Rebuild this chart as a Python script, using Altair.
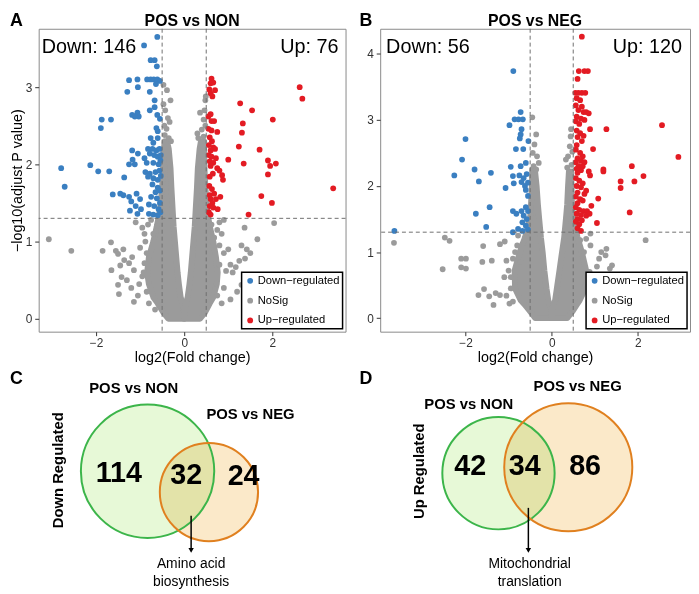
import altair as alt
import pandas as pd

FONT = "Liberation Sans"
BLUE, GREY, RED = "#3a7fc1", "#9b9b9b", "#e31b23"
GROUPS = ["Down−regulated", "NoSig", "Up−regulated"]
GREEN_FILL, ORANGE_FILL = "#e7f9d7", "#fbe9c9"
GREEN_LINE, ORANGE_LINE = "#3cb54a", "#e0801f"

# significance cut-offs
FC_CUTOFFS = [-0.5, 0.5]
P_CUTOFF = [1.301]

# ---------------- Panel A : POS vs NON ----------------
A_TITLE = "POS vs NON"
A_N_DOWN, A_N_UP = 146, 76
A_DOWN = [(-0.61,3.65),(-0.91,3.54),(-0.76,3.35),(-0.67,3.35),(-0.62,3.27),
          (-1.25,3.09),(-1.06,3.1),(-0.84,3.1),(-0.76,3.1),(-0.69,3.1),(-0.61,3.1),(-0.55,3.08),(-0.64,3.04),
          (-1.29,2.94),(-1.05,3.0),(-0.78,2.94),(-0.67,2.83),
          (-0.67,2.74),(-1.18,2.64),(-1.06,2.67),(-1.03,2.62),(-0.78,2.70),(-0.61,2.64),(-0.55,2.59),(-1.12,2.62),
          (-1.87,2.58),(-1.66,2.58),(-1.89,2.47),
          (-0.63,2.47),(-0.60,2.43),(-0.76,2.34),(-0.60,2.34),(-0.70,2.28),
          (-0.82,2.2),(-0.72,2.2),(-0.63,2.18),(-0.56,2.2),(-0.78,2.14),(-0.68,2.12),(-0.6,2.1),(-0.53,2.12),
          (-1.18,2.18),(-1.05,2.14),(-1.17,2.06),(-1.25,2.0),(-1.12,2.0),(-0.9,2.08),(-0.85,2.02),(-0.7,2.02),(-0.58,2.0),(-0.54,2.05),
          (-2.79,1.95),(-2.71,1.71),(-2.13,1.99),(-1.95,1.91),(-1.70,1.91),(-1.36,1.83),
          (-0.88,1.9),(-0.78,1.88),(-0.65,1.9),(-0.56,1.92),(-0.82,1.84),(-0.70,1.82),(-0.6,1.8),(-0.53,1.85),
          (-0.72,1.74),(-0.6,1.7),(-0.55,1.66),(-0.65,1.64),
          (-1.62,1.61),(-1.45,1.62),(-1.38,1.6),(-1.25,1.58),(-1.2,1.52),(-1.08,1.62),(-1.0,1.55),(-1.1,1.46),(-0.98,1.42),
          (-0.75,1.58),(-0.62,1.56),(-0.55,1.5),(-0.68,1.46),(-0.58,1.42),(-0.8,1.48),
          (-1.23,1.40),(-1.06,1.36),(-0.8,1.36),(-0.7,1.35),(-0.6,1.34),(-0.54,1.38)]
A_UP = [(0.62,3.11),(0.6,3.05),(0.66,3.06),(0.57,2.97),(0.7,2.96),(0.6,2.92),(0.64,2.88),
        (2.62,3.0),(2.68,2.85),(1.27,2.79),(1.54,2.7),(2.01,2.58),(1.33,2.53),
        (0.6,2.65),(0.55,2.62),(0.62,2.56),(0.68,2.56),
        (0.55,2.46),(0.62,2.44),(0.75,2.42),(1.31,2.41),(1.24,2.23),(1.71,2.19),
        (0.58,2.35),(0.63,2.3),(0.56,2.25),(0.66,2.22),(0.6,2.18),(0.7,2.2),
        (1.0,2.06),(1.35,2.01),(1.9,2.05),(2.08,2.01),(1.95,1.98),(1.9,1.87),
        (0.56,2.12),(0.62,2.1),(0.58,2.04),(0.66,2.02),(0.72,2.08),(0.6,1.98),(0.75,1.95),
        (0.8,1.92),(0.86,1.86),(0.88,1.8),(0.65,1.88),(0.58,1.84),
        (3.38,1.69),(1.75,1.59),(1.99,1.5),(1.46,1.35),
        (0.57,1.72),(0.63,1.68),(0.58,1.6),(0.68,1.62),(0.6,1.55),(0.72,1.55),(0.64,1.5),
        (0.58,1.46),(0.66,1.44),(0.76,1.42),(0.56,1.38),(0.6,1.35),(0.82,1.58)]
A_NOSIG = [(-3.07,1.03),(-2.56,0.88),(-1.85,0.88),(-1.66,0.99),(-1.55,0.88),(-1.5,0.84),(-1.38,0.9),
           (-1.65,0.63),(-1.45,0.69),(-1.42,0.54),(-1.36,0.76),(-1.25,0.72),(-1.18,0.8),(-1.14,0.63),
           (-1.5,0.44),(-1.48,0.32),(-1.3,0.5),(-1.2,0.4),(-1.14,0.22),(-1.1,1.25),(-0.95,1.18),(-0.9,1.1),
           (-0.88,1.0),(-1.0,0.92),(-0.95,0.55),(-1.05,0.3),(-0.85,0.35),(-0.8,0.2),(-0.75,1.28),(-0.82,1.22),
           (-0.9,0.72),(-1.02,0.45),(-0.66,0.12),(-0.7,1.1),(-0.62,1.2),(-0.85,0.85),(-0.92,0.6),
           (-0.47,3.03),(-0.39,2.96),(-0.31,2.83),(-0.43,2.7),(-0.37,2.6),(-0.45,2.5),(-0.4,2.46),(-0.35,2.34),
           (-0.3,2.3),(-0.44,2.38),(-0.33,2.55),(-0.47,2.78),
           (0.49,2.88),(0.48,2.83),(0.36,2.67),(0.44,2.58),(0.48,2.5),(0.32,2.34),(0.44,2.36),(0.4,2.45),
           (0.3,2.4),(0.46,2.7),
           (2.04,1.24),(1.37,1.18),(1.66,1.03),(1.3,0.95),(1.42,0.9),(1.5,0.85),(1.38,0.78),(1.25,0.75),
           (1.17,0.67),(1.3,0.44),(1.0,0.9),(0.9,0.85),(0.8,0.95),(0.85,1.1),(0.8,1.25),(0.75,1.15),
           (1.05,0.7),(1.1,0.6),(0.95,0.62),(0.9,0.4),(0.75,0.3),(0.85,0.2),(0.72,0.46),(0.9,1.28),
           (1.2,0.35),(1.05,0.25),(0.68,1.05),(0.62,1.22),(0.8,0.7)]
# dense core of non-significant genes: (-log10 p, outer fc, inner fc)
A_LEFT_ARM = [(0.0,-0.36,0.0),(0.08,-0.47,0.0),(0.2,-0.6,-0.04),(0.28,-0.7,-0.08),(0.45,-0.8,-0.12),
              (0.6,-0.84,-0.15),(0.8,-0.8,-0.18),(1.0,-0.7,-0.21),(1.2,-0.62,-0.24),(1.4,-0.55,-0.26),
              (1.7,-0.5,-0.29),(1.95,-0.48,-0.31),(2.2,-0.46,-0.35),(2.3,-0.44,-0.39)]
A_RIGHT_ARM = [(0.0,0.0,0.36),(0.08,0.0,0.47),(0.2,0.04,0.58),(0.28,0.08,0.66),(0.45,0.12,0.74),
               (0.6,0.15,0.76),(0.8,0.18,0.72),(1.0,0.21,0.66),(1.2,0.24,0.58),(1.4,0.26,0.52),
               (1.7,0.29,0.48),(1.95,0.31,0.46),(2.2,0.35,0.45),(2.3,0.38,0.44)]

# ---------------- Panel B : POS vs NEG ----------------
B_TITLE = "POS vs NEG"
B_N_DOWN, B_N_UP = 56, 120
B_DOWN = [(-0.89,3.74),(-0.72,3.12),(-0.86,3.01),(-0.77,3.01),(-0.67,3.01),(-0.98,2.92),(-0.70,2.86),
          (-0.72,2.78),(-0.74,2.72),(-2.0,2.71),(-0.83,2.56),(-0.66,2.56),(-0.54,2.68),(-2.08,2.4),
          (-1.79,2.25),(-1.41,2.2),(-2.26,2.16),(-1.69,2.07),(-0.95,2.29),(-0.72,2.3),(-0.6,2.35),
          (-0.9,2.15),(-0.75,2.16),(-0.65,2.12),(-0.58,2.18),(-1.07,1.97),(-0.88,2.04),(-0.7,2.06),
          (-0.62,2.0),(-0.55,2.05),(-0.6,1.94),(-0.55,1.85),(-1.76,1.58),(-1.44,1.68),(-1.52,1.38),
          (-3.65,1.32),(-0.9,1.62),(-0.82,1.58),(-0.7,1.62),(-0.6,1.68),(-0.55,1.62),(-0.65,1.55),
          (-0.58,1.5),(-0.68,1.45),(-0.6,1.4),(-0.78,1.35),(-0.68,1.32),(-0.9,1.3),(-0.55,1.34)]
B_UP = [(0.70,4.26),(0.63,3.74),(0.76,3.74),(0.84,3.74),(0.6,3.62),
        (0.55,3.41),(0.62,3.41),(0.7,3.41),(0.78,3.41),(0.58,3.33),(0.66,3.3),(0.56,3.22),(0.7,3.2),
        (0.62,3.15),(0.74,3.12),(0.8,3.12),(0.58,3.05),(0.68,3.02),(0.56,2.98),(0.76,3.0),(0.64,2.94),(0.86,3.1),
        (0.89,2.86),(1.27,2.86),(2.56,2.92),(0.58,2.84),(0.66,2.8),(0.74,2.76),(0.6,2.74),(0.7,2.68),(0.58,2.62),
        (0.96,2.56),(2.94,2.44),(0.56,2.55),(0.66,2.5),(0.72,2.45),(0.6,2.42),(0.68,2.38),(0.56,2.36),
        (0.76,2.36),(0.62,2.3),(0.72,2.3),(0.58,2.26),(0.68,2.24),(0.86,2.22),(0.6,2.2),
        (1.2,2.25),(1.2,2.22),(1.86,2.3),(2.13,2.15),(0.89,2.16),(1.6,2.07),(1.6,1.97),(1.92,2.07),
        (1.08,1.81),(0.8,1.93),(1.05,1.44),(1.81,1.6),
        (0.56,2.12),(0.64,2.08),(0.72,2.04),(0.58,2.0),(0.68,1.98),(0.6,1.9),(0.76,1.88),(0.56,1.84),
        (0.66,1.8),(0.72,1.78),(0.6,1.74),(0.56,1.68),(0.64,1.64),(0.74,1.62),(0.82,1.62),(0.58,1.58),
        (0.68,1.56),(0.8,1.55),(0.6,1.5),(0.7,1.48),(0.56,1.46),(0.64,1.42),(0.6,1.36),(0.68,1.32),
        (0.88,1.58),(0.92,1.7)]
B_NOSIG = [(-3.66,1.14),(-2.48,1.22),(-2.37,1.17),(-2.53,0.74),(-2.1,0.9),(-1.99,0.9),(-2.1,0.77),
           (-1.99,0.75),(-1.59,1.09),(-1.61,0.85),(-1.39,0.87),(-1.2,1.12),(-1.09,1.16),(-1.05,0.87),
           (-1.0,0.72),(-1.1,0.62),(-0.95,0.62),(-1.57,0.44),(-1.45,0.33),(-1.3,0.38),(-1.2,0.35),
           (-1.05,0.34),(-0.98,0.22),(-0.9,0.25),(-0.85,1.0),(-0.8,1.1),(-0.9,0.9),(-0.78,1.25),
           (-0.72,0.85),(-1.7,0.35),(-1.35,0.2),(-0.68,1.12),(-0.95,0.45),
           (-0.45,3.04),(-0.36,2.78),(-0.4,2.63),(-0.34,2.45),(-0.42,2.3),(-0.36,2.25),(-0.44,2.5),(-0.3,2.35),
           (0.45,2.86),(0.44,2.75),(0.42,2.6),(0.48,2.52),(0.38,2.45),(0.33,2.4),(0.46,2.32),(0.36,2.28),
           (2.18,1.18),(1.27,1.05),(1.4,0.8),(1.35,0.75),(1.25,0.95),(1.1,0.9),(1.05,0.78),(1.12,0.6),
           (1.2,0.48),(1.05,0.4),(0.98,0.3),(1.15,0.25),(0.9,1.1),(0.8,1.2),(0.75,1.0),(0.88,0.7),
           (0.95,0.55),(0.82,0.45),(1.15,1.0),(0.9,1.28),(0.66,1.18)]
B_LEFT_ARM = [(0.0,-0.38,0.0),(0.1,-0.5,0.0),(0.2,-0.62,-0.04),(0.27,-0.72,-0.08),(0.45,-0.85,-0.12),
              (0.72,-0.86,-0.17),(1.0,-0.74,-0.21),(1.22,-0.62,-0.25),(1.5,-0.5,-0.29),(1.72,-0.48,-0.32),
              (2.0,-0.46,-0.35),(2.25,-0.45,-0.39)]
B_RIGHT_ARM = [(0.0,0.0,0.36),(0.1,0.0,0.48),(0.2,0.04,0.58),(0.27,0.08,0.65),(0.45,0.12,0.78),
               (0.72,0.18,0.8),(1.0,0.24,0.7),(1.22,0.29,0.6),(1.5,0.33,0.5),(1.72,0.36,0.47),
               (2.0,0.38,0.46),(2.22,0.40,0.45)]

# ---------------- Venn panels ----------------
C_SETS = ["POS vs NON", "POS vs NEG"]
C_COUNTS = [114, 32, 24]
C_SIDE = "Down Regulated"
C_TERM = ["Amino acid", "biosynthesis"]
D_SETS = ["POS vs NON", "POS vs NEG"]
D_COUNTS = [42, 34, 86]
D_SIDE = "Up Regulated"
D_TERM = ["Mitochondrial", "translation"]

# diagram layout (panel units)
C_GEOM = dict(circles=[(110, 128, 76), (172, 149, 56)], counts=[(81, 130), (149, 132), (207, 133)],
              sets=[(96, 44), (214, 70)], side=(20, 127), arrow=(154, 173, 208), term=[(154, 222), (154, 240)])
D_GEOM = dict(circles=[(119.5, 130, 64), (190, 124, 73)], counts=[(91, 123), (146, 123), (207, 123)],
              sets=[(89.5, 60), (199.5, 42)], side=(39, 128), arrow=(149.7, 165, 208), term=[(151, 222), (151, 240)])

TOP_H = 306
BOT_H = 230


def volcano(title, letter, letter_x, nosig, down, up, left_arm, right_arm, n_down, n_up,
            xdom, ydom, yticks, w, ytitle, down_x, up_x):
    xs = alt.Scale(domain=xdom, nice=False, zero=False)
    ys = alt.Scale(domain=ydom, nice=False, zero=False)
    xax = alt.Axis(values=[-2, 0, 2], title="log2(Fold change)")
    yax = alt.Axis(values=yticks, title=ytitle)

    def X(f):
        return alt.X(f, type="quantitative", scale=xs, axis=xax)

    def Y(f):
        return alt.Y(f, type="quantitative", scale=ys, axis=yax)

    arms = []
    for arm in (left_arm, right_arm):
        df = pd.DataFrame(arm, columns=["p", "lo", "hi"])
        arms.append(alt.Chart(df).mark_area(orient="horizontal", color=GREY, stroke=GREY, strokeWidth=6,
                                            strokeJoin="round", opacity=1)
                    .encode(y=Y("p"), x=X("lo"), x2=alt.X2("hi")))
    rows = ([(x, y, GROUPS[1]) for x, y in nosig] + [(x, y, GROUPS[0]) for x, y in down]
            + [(x, y, GROUPS[2]) for x, y in up])
    pts = pd.DataFrame(rows, columns=["fc", "p", "group"])
    points = alt.Chart(pts).mark_circle(size=34, opacity=1).encode(
        x=X("fc"), y=Y("p"),
        color=alt.Color("group:N", scale=alt.Scale(domain=GROUPS, range=[BLUE, GREY, RED]),
                        legend=alt.Legend(title=None, orient="bottom-right")))
    vr = alt.Chart(pd.DataFrame({"fc": FC_CUTOFFS})).mark_rule(
        color="#6f6f6f", strokeDash=[4, 3], strokeWidth=1).encode(x=X("fc"))
    hr = alt.Chart(pd.DataFrame({"p": P_CUTOFF})).mark_rule(
        color="#6f6f6f", strokeDash=[4, 3], strokeWidth=1).encode(y=Y("p"))
    dtxt = alt.Chart(pd.DataFrame({"t": [f"Down: {n_down}"]})).mark_text(
        align="left", baseline="alphabetic", fontSize=20).encode(
        text="t:N", x=alt.value(down_x), y=alt.value(24))
    utxt = alt.Chart(pd.DataFrame({"t": [f"Up: {n_up}"]})).mark_text(
        align="right", baseline="alphabetic", fontSize=20).encode(
        text="t:N", x=alt.value(up_x), y=alt.value(24))
    ttl = alt.Chart(pd.DataFrame({"t": [title]})).mark_text(
        baseline="top", fontSize=16, fontWeight="bold").encode(
        text="t:N", x=alt.value(w / 2), y=alt.value(-16))
    let = alt.Chart(pd.DataFrame({"t": [letter]})).mark_text(
        align="left", baseline="top", fontSize=18, fontWeight="bold").encode(
        text="t:N", x=alt.value(letter_x), y=alt.value(-17))
    return alt.layer(*arms, points, vr, hr, dtxt, utxt, ttl, let).properties(
        width=w, height=TOP_H, view=alt.ViewBackground(stroke="#8a8a8a", strokeWidth=1))


def venn(sets, counts, side, term, geom, letter, letter_x, w):
    xs = alt.Scale(domain=[0, w], nice=False, zero=False)
    ys = alt.Scale(domain=[0, BOT_H], nice=False, zero=False, reverse=True)

    def X(f):
        return alt.X(f, type="quantitative", scale=xs, axis=None)

    def Y(f):
        return alt.Y(f, type="quantitative", scale=ys, axis=None)

    circ = pd.DataFrame({
        "set": sets,
        "cx": [c[0] for c in geom["circles"]],
        "cy": [c[1] for c in geom["circles"]],
        "r": [c[2] for c in geom["circles"]],
        "fill": [GREEN_FILL, ORANGE_FILL],
        "line": [GREEN_LINE, ORANGE_LINE],
    })
    base = alt.Chart(circ).transform_calculate(area="PI*datum.r*datum.r").encode(
        x=X("cx"), y=Y("cy"), size=alt.Size("area:Q", scale=None))
    fills = base.mark_point(shape="circle", filled=True, opacity=1, strokeWidth=0, blend="multiply").encode(
        color=alt.Color("fill:N", scale=None))
    lines = base.mark_point(shape="circle", filled=False, opacity=1, strokeWidth=2).encode(
        color=alt.Color("line:N", scale=None))
    cnt = pd.DataFrame({"n": counts, "x": [p[0] for p in geom["counts"]], "y": [p[1] for p in geom["counts"]]})
    nums = alt.Chart(cnt).mark_text(fontSize=29, fontWeight="bold", baseline="middle").encode(
        x=X("x"), y=Y("y"), text="n:Q")
    st = pd.DataFrame({"s": sets, "x": [p[0] for p in geom["sets"]], "y": [p[1] for p in geom["sets"]]})
    setlab = alt.Chart(st).mark_text(fontSize=15, fontWeight="bold", baseline="middle").encode(
        x=X("x"), y=Y("y"), text="s:N")
    sd = pd.DataFrame({"s": [side], "x": [geom["side"][0]], "y": [geom["side"][1]]})
    sidelab = alt.Chart(sd).mark_text(fontSize=15, fontWeight="bold", angle=270, baseline="middle").encode(
        x=X("x"), y=Y("y"), text="s:N")
    ax, ay1, ay2 = geom["arrow"]
    arr = pd.DataFrame({"x": [ax], "y": [ay1], "y2": [ay2]})
    shaft = alt.Chart(arr).mark_rule(color="black", strokeWidth=1.5).encode(
        x=X("x"), y=Y("y"), y2=alt.Y2("y2"))
    head = alt.Chart(arr).mark_point(shape="triangle-down", filled=True, size=30, color="black", opacity=1).encode(
        x=X("x"), y=Y("y2"))
    tm = pd.DataFrame({"t": term, "x": [p[0] for p in geom["term"]], "y": [p[1] for p in geom["term"]]})
    termlab = alt.Chart(tm).mark_text(fontSize=14, baseline="middle").encode(
        x=X("x"), y=Y("y"), text="t:N")
    let = alt.Chart(pd.DataFrame({"t": [letter]})).mark_text(
        align="left", baseline="top", fontSize=18, fontWeight="bold").encode(
        text="t:N", x=alt.value(letter_x), y=alt.value(26))
    return alt.layer(fills, lines, nums, setlab, sidelab, shaft, head, termlab, let).properties(
        width=w, height=BOT_H, view=alt.ViewBackground(strokeWidth=0))


A = volcano(A_TITLE, "A", -29, A_NOSIG, A_DOWN, A_UP, A_LEFT_ARM, A_RIGHT_ARM, A_N_DOWN, A_N_UP,
            [-3.30, 3.66], [-0.167, 3.756], [0, 1, 2, 3], 310, "−log10(adjust P value)", 3, 303)
B = volcano(B_TITLE, "B", -21, B_NOSIG, B_DOWN, B_UP, B_LEFT_ARM, B_RIGHT_ARM, B_N_DOWN, B_N_UP,
            [-3.98, 3.21], [-0.205, 4.38], [0, 1, 2, 3, 4], 313, None, 6, 305)
C = venn(C_SETS, C_COUNTS, C_SIDE, C_TERM, C_GEOM, "C", -29, 310)
D = venn(D_SETS, D_COUNTS, D_SIDE, D_TERM, D_GEOM, "D", -21, 313)

chart = (
    alt.concat(A, B, C, D, columns=2, spacing={"row": 13, "column": 35}, bounds="flush")
    .resolve_scale(color="independent", size="independent")
    .resolve_legend(color="independent")
    .properties(padding=0)
    .configure(font=FONT)
    .configure_axis(grid=False, domain=False, tickColor="#333333", tickSize=4, labelColor="#333333",
                    labelFontSize=12, labelFont=FONT, titleFont=FONT, titleFontSize=14.5,
                    titleFontWeight="normal", titleColor="black")
    .configure_axisY(labelPadding=3, titlePadding=1)
    .configure_axisX(labelPadding=2, titlePadding=2)
    .configure_legend(strokeColor="black", strokeWidth=1.5, fillColor="white", padding=3,
                      labelFontSize=11.3, labelFont=FONT, symbolSize=34, symbolType="circle",
                      rowPadding=8, labelOffset=2, offset=3, symbolStrokeWidth=0)
    .configure_text(font=FONT)
)

chart.save("out.html", embed_options={"renderer": "svg", "actions": False})
